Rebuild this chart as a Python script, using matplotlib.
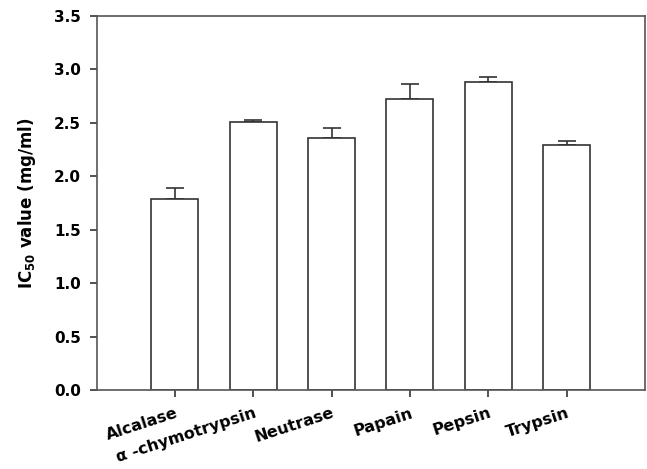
import matplotlib
matplotlib.use('Agg')
import matplotlib.pyplot as plt
import numpy as np

plt.rcParams['font.family'] = ['DejaVu Sans']
plt.rcParams['font.weight'] = 'bold'
plt.rcParams['mathtext.fontset'] = 'custom'
plt.rcParams['mathtext.rm'] = 'DejaVu Sans:bold'
plt.rcParams['mathtext.bf'] = 'DejaVu Sans:bold'

# IC50 values per enzyme
enzymes = ['Alcalase', 'α -chymotrypsin', 'Neutrase', 'Papain', 'Pepsin', 'Trypsin']
ic50 = [1.79, 2.51, 2.36, 2.72, 2.88, 2.29]
err = [0.10, 0.015, 0.09, 0.14, 0.05, 0.04]

fig = plt.figure(figsize=(6.47, 4.69), dpi=100)
ax = fig.add_axes([96.5 / 647, 1 - 390 / 469, (645 - 96.5) / 647, (390 - 16) / 469])

x = np.arange(1, len(enzymes) + 1)
edge = '#333333'
ax.bar(x, ic50, width=0.6, color='white', edgecolor=edge, linewidth=1.2, zorder=2)
ax.errorbar(x, ic50, yerr=[np.zeros(len(err)), err], fmt='none', ecolor=edge,
            elinewidth=1.2, capsize=6.5, capthick=1.2, zorder=1)

ax.set_xlim(0, 7)
ax.set_ylim(0, 3.5)
yt = np.arange(0, 3.6, 0.5)
ax.set_yticks(yt)
ax.set_yticklabels([f'{v:.1f}' for v in yt], fontsize=11, fontweight='bold')
ax.set_xticks(x)
ax.set_xticklabels(enzymes, rotation=18, ha='right', va='top', rotation_mode='anchor',
                   fontsize=11.5, fontweight='bold')
ax.tick_params(axis='y', direction='out', length=5, width=1.2, color=edge, pad=6)
ax.tick_params(axis='x', direction='out', length=5, width=1.2, color=edge, pad=6)

for s in ax.spines.values():
    s.set_color('#555555')
    s.set_linewidth(1.2)

ax.set_ylabel(r'IC$_{\mathbf{50}}$ value (mg/ml)', fontsize=12, fontweight='bold', labelpad=12)

plt.savefig('out.png', dpi=100)
